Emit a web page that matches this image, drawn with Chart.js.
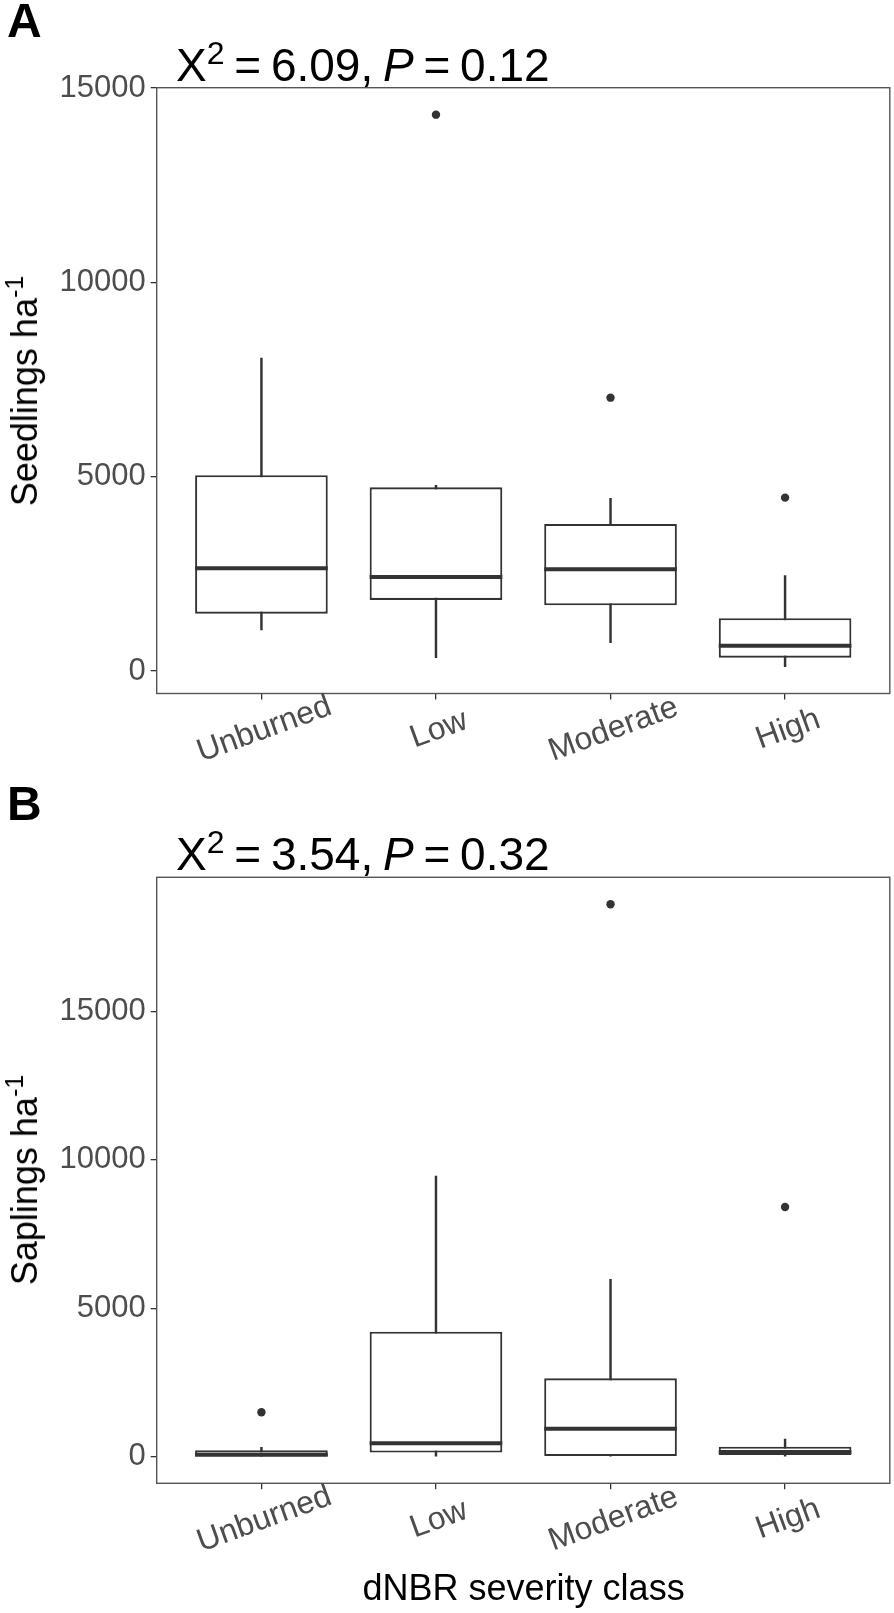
<!DOCTYPE html>
<html>
<head>
<meta charset="utf-8">
<script src="https://cdn.jsdelivr.net/npm/chart.js@4.4.1/dist/chart.umd.min.js"></script>
<style>
  body { margin: 0; background: #fff; }
  #page { position: relative; width: 894px; height: 1613px; overflow: hidden;
          font-family: "Liberation Sans", Arial, sans-serif; color: #000; }
  canvas { position: absolute; left: 0; }
  .txt { position: absolute; white-space: nowrap; line-height: 1; }
  .panel { font-weight: bold; font-size: 48px; left: 7px; }
  .title { font-size: 46px; left: 176px; word-spacing: -3px; }
  .title sup { font-size: 32px; vertical-align: baseline; position: relative; top: -17px; }
  .ytitle { font-size: 36px; left: 25px; transform: translate(-50%, -50%) rotate(-90deg); }
  .ytitle sup { font-size: 25px; vertical-align: baseline; position: relative; top: -14px; }
  .xtitle { font-size: 36px; left: 523.6px; transform: translateX(-50%); }
</style>
</head>
<body>
<div id="page">
  <canvas id="chartA" width="894" height="780" style="top:0"></canvas>
  <canvas id="chartB" width="894" height="833" style="top:780px"></canvas>

  <div class="txt panel" style="top:-3px">A</div>
  <div class="txt title" style="top:42px">X<sup>2</sup> = 6.09, <i>P</i> = 0.12</div>
  <div class="txt ytitle" style="top:390.6px">Seedlings ha<sup>-1</sup></div>

  <div class="txt panel" style="top:780px">B</div>
  <div class="txt title" style="top:831px">X<sup>2</sup> = 3.54, <i>P</i> = 0.32</div>
  <div class="txt ytitle" style="top:1180.3px">Saplings ha<sup>-1</sup></div>

  <div class="txt xtitle" style="top:1569.5px">dNBR severity class</div>
</div>

<script>
// --- data ---
const categories = ["Unburned", "Low", "Moderate", "High"];

// A: seedlings ha-1
const seedMin = [1055, 343, 729, 111];
const seedQ1  = [1475, 1827, 1690, 343];
const seedMed = [2643, 2419, 2617, 652];
const seedQ3  = [5036, 4727, 3783, 1356];
const seedMax = [8054, 4779, 4444, 2453];
const seedOut = [[], [14316], [7033], [4460]];

// B: saplings ha-1
const sapMin = [0, 0, 0, 20];
const sapQ1  = [0, 140, 0, 57];
const sapMed = [70, 451, 944, 160];
const sapQ3  = [215, 4212, 2641, 337];
const sapMax = [320, 9457, 5977, 590];
const sapOut = [[1496], [], [18612], [8413]];

const yTicks = [0, 5000, 10000, 15000];

Chart.defaults.font.family = '"Liberation Sans", Arial, sans-serif';

const INK = "#333333";
const TICK_GREY = "#4d4d4d";

// medians, panel frame and slanted category labels
function boxExtras(medians) {
  return {
    id: "boxExtras",
    afterDatasetsDraw(chart) {
      const { ctx, scales: { y } } = chart;
      const boxes = chart.getDatasetMeta(1);
      ctx.save();
      ctx.strokeStyle = INK;
      ctx.lineWidth = 4;
      medians.forEach((m, i) => {
        const bar = boxes.data[i];
        const py = y.getPixelForValue(m);
        ctx.beginPath();
        ctx.moveTo(bar.x - bar.width / 2, py);
        ctx.lineTo(bar.x + bar.width / 2, py);
        ctx.stroke();
      });
      ctx.restore();
    },
    afterDraw(chart) {
      const { ctx, chartArea: a, scales: { x } } = chart;
      ctx.save();
      ctx.strokeStyle = "#555";
      ctx.lineWidth = 1.4;
      ctx.strokeRect(a.left, a.top, a.right - a.left, a.bottom - a.top);

      ctx.fillStyle = TICK_GREY;
      ctx.font = '32px "Liberation Sans", Arial, sans-serif';
      ctx.textAlign = "center";
      ctx.textBaseline = "middle";
      categories.forEach((c, i) => {
        ctx.save();
        ctx.translate(x.getPixelForValue(i) + 3, a.bottom + 36);
        ctx.rotate(-20 * Math.PI / 180);
        ctx.fillText(c, 0, 0);
        ctx.restore();
      });
      ctx.restore();
    }
  };
}

function makeBoxChart(id, mins, q1s, meds, q3s, maxs, outs, yMin, yMax, plotTop, plotBottom, canvasH) {
  const whiskers = categories.map((c, i) => ({ x: i, y: [mins[i], maxs[i]] }));
  const boxes = categories.map((c, i) => ({ x: i, y: [q1s[i], q3s[i]] }));
  const points = outs.flatMap((vals, i) => vals.map(v => ({ x: i, y: v })));

  return new Chart(document.getElementById(id), {
    type: "bar",
    data: {
      datasets: [
        { data: whiskers, backgroundColor: INK, borderWidth: 0, barThickness: 1.8, grouped: false, order: 3 },
        { data: boxes, backgroundColor: "#fff", borderColor: INK, borderWidth: 2.1, borderSkipped: false,
          categoryPercentage: 1, barPercentage: 0.76, grouped: false, order: 2 },
        { type: "scatter", data: points, backgroundColor: INK, borderWidth: 0, pointRadius: 4.2, order: 1 }
      ]
    },
    options: {
      responsive: false,
      animation: false,
      layout: { padding: { top: plotTop, right: 3.5, left: 0, bottom: 0 } },
      plugins: { legend: { display: false }, tooltip: { enabled: false } },
      scales: {
        x: {
          type: "linear",
          min: -0.6, max: 3.6,
          offset: false,
          afterBuildTicks: (s) => { s.ticks = categories.map((c, i) => ({ value: i })); },
          ticks: { display: false },
          grid: { offset: false, drawOnChartArea: false, tickLength: 6, color: INK, lineWidth: 1.3 },
          border: { display: false },
          afterFit: (s) => { s.height = canvasH - plotBottom; }
        },
        y: {
          min: yMin, max: yMax,
          afterBuildTicks: (s) => { s.ticks = yTicks.map(v => ({ value: v })); },
          ticks: { color: TICK_GREY, font: { size: 31 }, padding: 5, callback: (v) => String(v) },
          grid: { drawOnChartArea: false, tickLength: 6, color: INK, lineWidth: 1.3 },
          border: { display: false },
          afterFit: (s) => { s.width = 156.7; }
        }
      }
    },
    plugins: [boxExtras(meds)]
  });
}

makeBoxChart("chartA", seedMin, seedQ1, seedMed, seedQ3, seedMax, seedOut,
             -580, 15010, 87.7, 693.5, 780);
makeBoxChart("chartB", sapMin, sapQ1, sapMed, sapQ3, sapMax, sapOut,
             -896, 19520, 97.3, 703.3, 833);
</script>
</body>
</html>
